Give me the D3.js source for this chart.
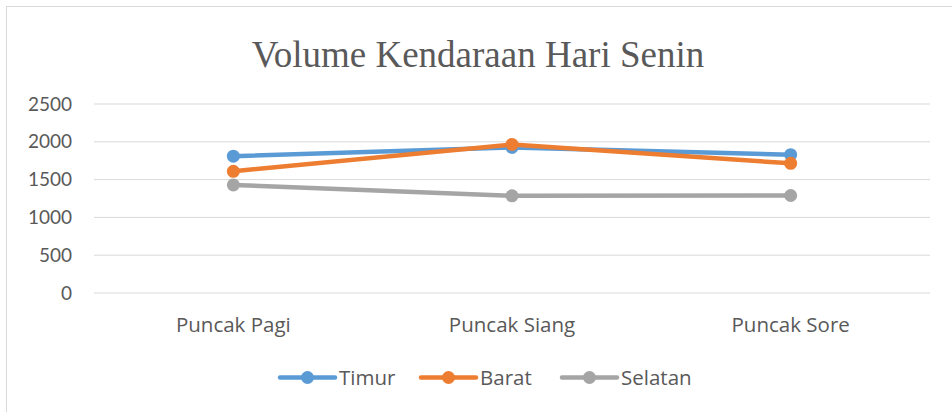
<!DOCTYPE html>
<html>
<head>
<meta charset="utf-8">
<script src="https://cdn.jsdelivr.net/npm/d3@7"></script>
<style>
  body { margin: 0; background: #fff; }
  svg { display: block; }
</style>
</head>
<body>
<svg id="chart" width="952" height="412"></svg>
<script>
var categories = ["Puncak Pagi", "Puncak Siang", "Puncak Sore"];
var timur = [1810, 1925, 1830];
var barat = [1610, 1965, 1715];
var selatan = [1430, 1285, 1290];
var yTicks = [0, 500, 1000, 1500, 2000, 2500];

var series = [
  { name: "Timur", values: timur, color: "#5b9bd5" },
  { name: "Barat", values: barat, color: "#ed7d31" },
  { name: "Selatan", values: selatan, color: "#a5a5a5" }
];

var svg = d3.select("#chart");
var tickFont = "Lato, 'Open Sans', sans-serif";
var labelFont = "'Open Sans', 'Noto Sans', sans-serif";

// chart border
svg.append("rect")
    .attr("x", 6.5).attr("y", 6.5)
    .attr("width", 952).attr("height", 412)
    .attr("fill", "none")
    .attr("stroke", "#d9d9d9");

svg.append("text")
    .attr("x", 478).attr("y", 67)
    .attr("text-anchor", "middle")
    .attr("font-family", "'Liberation Serif', 'Times New Roman', serif")
    .attr("font-size", 37)
    .attr("fill", "#595959")
    .text("Volume Kendaraan Hari Senin");

var x = d3.scaleBand().domain(categories).range([94, 930]);
var y = d3.scaleLinear().domain([0, 2500]).range([293, 104]);

// gridlines
svg.append("g")
  .selectAll("line")
  .data(yTicks)
  .enter().append("line")
    .attr("x1", 94).attr("x2", 930)
    .attr("y1", function(d) { return y(d); })
    .attr("y2", function(d) { return y(d); })
    .attr("stroke", "#d9d9d9")
    .attr("stroke-width", 1);

var yAxis = svg.append("g")
    .attr("transform", "translate(94,0)")
    .call(d3.axisLeft(y).tickValues(yTicks).tickFormat(d3.format("d")).tickSize(0).tickPadding(22));
yAxis.select(".domain").remove();
yAxis.selectAll("text")
    .attr("font-family", tickFont)
    .attr("font-size", 19)
    .attr("fill", "#595959");

var xAxis = svg.append("g")
    .attr("transform", "translate(0,293)")
    .call(d3.axisBottom(x).tickSize(0));
xAxis.select(".domain").remove();
xAxis.selectAll("text")
    .attr("y", 39)
    .attr("dy", null)
    .attr("font-family", labelFont)
    .attr("font-size", 20.5)
    .attr("fill", "#595959");

var cx = function(i) { return x(categories[i]) + x.bandwidth() / 2; };

var line = d3.line()
    .x(function(d, i) { return cx(i); })
    .y(function(d) { return y(d); });

series.forEach(function(s) {
  var g = svg.append("g");
  g.append("path")
      .attr("d", line(s.values))
      .attr("fill", "none")
      .attr("stroke", s.color)
      .attr("stroke-width", 4.5)
      .attr("stroke-linejoin", "round");
  g.selectAll("circle")
    .data(s.values)
    .enter().append("circle")
      .attr("cx", function(d, i) { return cx(i); })
      .attr("cy", function(d) { return y(d); })
      .attr("r", 6.5)
      .attr("fill", s.color);
});

// legend
var legendX = [280, 421, 562];
var legend = svg.append("g");
series.forEach(function(s, i) {
  var lx = legendX[i], ly = 377.5;
  legend.append("line")
      .attr("x1", lx).attr("x2", lx + 55)
      .attr("y1", ly).attr("y2", ly)
      .attr("stroke", s.color)
      .attr("stroke-width", 4.5)
      .attr("stroke-linecap", "round");
  legend.append("circle")
      .attr("cx", lx + 27.5).attr("cy", ly)
      .attr("r", 6.5)
      .attr("fill", s.color);
  legend.append("text")
      .attr("x", lx + 59).attr("y", 385)
      .attr("font-family", labelFont)
      .attr("font-size", 20.5)
      .attr("fill", "#595959")
      .text(s.name);
});
</script>
</body>
</html>
